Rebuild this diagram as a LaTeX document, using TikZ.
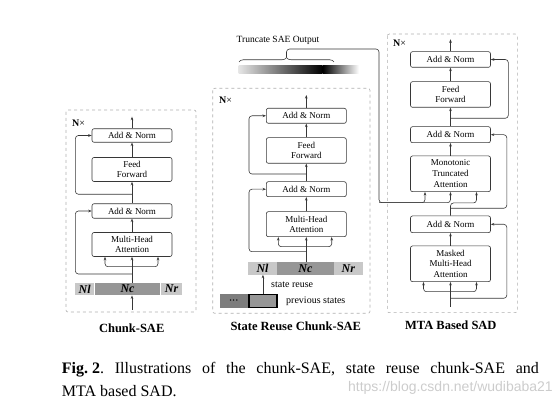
\documentclass[tikz,border=0pt]{standalone}
\usepackage{fontspec}
\setmainfont{Liberation Serif}
\setsansfont{Liberation Sans}
\usetikzlibrary{arrows.meta,positioning,decorations.pathreplacing,calc}
\definecolor{lineC}{RGB}{55,55,55}
\definecolor{barL}{RGB}{200,200,200}
\definecolor{barD}{RGB}{150,150,150}
\definecolor{prevD}{RGB}{125,125,125}
\definecolor{frameC}{RGB}{175,175,175}

\begin{document}
\begin{tikzpicture}[x=1pt, y=-1pt,
    >={Stealth[length=3.5pt,width=2.6pt]},
    blk/.style={rectangle, rounded corners=2pt, draw=lineC, line width=0.6pt, fill=white, minimum width=80pt, align=center, inner sep=1pt, font=\fontsize{9}{10.5}\selectfont},
    seg/.style={rectangle, minimum height=12.5pt, inner sep=0pt, font=\fontsize{12}{12}\selectfont\bfseries\itshape},
    frame/.style={draw=frameC, dashed, line width=0.6pt, rounded corners=2pt},
    wire/.style={draw=lineC, line width=0.6pt, rounded corners=3pt},
    txt/.style={inner sep=0pt, font=\fontsize{10}{12}\selectfont},
    title/.style={inner sep=0pt, font=\fontsize{12.5}{14}\selectfont\bfseries}
]
    \useasboundingbox (0,0) rectangle (558,406);

    % Chunk-SAE
    \draw[frame] (66,110) rectangle (196,312);
    \node[txt, anchor=west] (nx1) at (72,123) {\textbf{N}×};
    \node[blk, minimum height=13.5pt] (an1t) at (132,135.5) {Add \& Norm};
    \node[blk, minimum height=24pt] (ff1) at (132,169.5) {Feed\\Forward};
    \node[blk, minimum height=14.5pt] (an1b) at (132,211) {Add \& Norm};
    \node[blk, minimum height=24pt] (mha1) at (132,244.5) {Multi-Head\\Attention};
    \node[seg, fill=barL, minimum width=19.3pt] (nl1) at (84.6,289) {Nl};
    \node[seg, fill=barD, minimum width=65.7pt, right=0pt of nl1] (nc1) {Nc};
    \node[seg, fill=barL, minimum width=21.7pt, right=0pt of nc1] (nr1) {Nr};
    \node[title] (t1) at (131.7,328) {Chunk-SAE};
    \coordinate (in1) at (132,310);
    \coordinate (br1) at (132,266.7);
    \coordinate (r1a) at (132,274);
    \coordinate (r1b) at (132,194.3);
    \coordinate (out1) at (132,116.7);
    \draw[wire,->] (in1) -- (in1 |- nc1.south);
    \draw[wire,->] (nc1.north -| mha1) -- (mha1.south);
    \draw[wire,->] (br1) -| ([xshift=-27pt]mha1.south);
    \draw[wire,->] (br1) -| ([xshift=26pt]mha1.south);
    \draw[wire,->] (r1a) -| ([xshift=-16.3pt]an1b.west) -- (an1b.west);
    \draw[wire,->] (mha1.north) -- (an1b.south);
    \draw[wire,->] (an1b.north) -- (ff1.south);
    \draw[wire,->] (r1b) -| ([xshift=-16.3pt]an1t.west) -- (an1t.west);
    \draw[wire,->] (ff1.north) -- (an1t.south);
    \draw[wire,->] (an1t.north) -- (out1);

    % State Reuse Chunk-SAE
    \draw[frame] (212.7,88.3) rectangle (370,313.3);
    \node[txt, anchor=west] (nx2) at (219,100) {\textbf{N}×};
    \node[blk, minimum height=15pt] (an2t) at (306.3,115.8) {Add \& Norm};
    \node[blk, minimum height=25.6pt] (ff2) at (306.3,150.5) {Feed\\Forward};
    \node[blk, minimum height=15pt] (an2b) at (306.3,189.2) {Add \& Norm};
    \node[blk, minimum height=25pt] (mha2) at (306.3,224.2) {Multi-Head\\Attention};
    \node[seg, fill=barL, minimum width=28.4pt] (nl2) at (262.5,268.3) {Nl};
    \node[seg, fill=barD, minimum width=56.6pt, right=0pt of nl2] (nc2) {Nc};
    \node[seg, fill=barL, minimum width=28.4pt, right=0pt of nc2] (nr2) {Nr};
    \node[rectangle, fill=prevD, minimum width=27.7pt, minimum height=13.4pt, inner sep=0pt, font=\fontsize{6}{6}\selectfont] (dots) at (233.8,301) {\textbullet\,\textbullet\,\textbullet};
    \node[rectangle, fill=barD, draw=black, line width=1.2pt, minimum width=28pt, minimum height=12.4pt, inner sep=0pt, right=0.5pt of dots] (prev) {};
    \node[txt, anchor=west] (sr) at (271,285) {state reuse};
    \node[txt, anchor=west] (ps) at (286,301) {previous states};
    \node[title] (t2) at (295.8,326.7) {State Reuse Chunk-SAE};
    \coordinate (br2) at (306.3,246.7);
    \coordinate (r2a) at (306.3,251.7);
    \coordinate (r2b) at (306.3,174);
    \coordinate (out2) at (306.3,95);
    \draw[wire,->] (prev.north) -- (prev.north |- nl2.south);
    \draw[wire,->] (nc2.north -| mha2) -- (mha2.south);
    \draw[wire,->] (br2) -| ([xshift=-28pt]mha2.south);
    \draw[wire,->] (br2) -| ([xshift=25.4pt]mha2.south);
    \draw[wire,->] (r2a) -| ([xshift=-17pt]an2b.west) -- (an2b.west);
    \draw[wire,->] (mha2.north) -- (an2b.south);
    \draw[wire,->] (an2b.north) -- (ff2.south);
    \draw[wire,->] (r2b) -| ([xshift=-17pt]an2t.west) -- (an2t.west);
    \draw[wire,->] (ff2.north) -- (an2t.south);
    \draw[wire,->] (an2t.north) -- (out2);

    % Truncated SAE output
    \node[txt, anchor=west, font=\fontsize{9.5}{11}\selectfont] (trtxt) at (236.5,40) {Truncate SAE Output};
    \node[inner sep=0pt, minimum width=84pt, minimum height=8.3pt, left color=black!10, right color=black, anchor=west] (grL) at (238.3,69.2) {};
    \node[inner sep=0pt, minimum width=36pt, minimum height=8.3pt, left color=black, right color=white, right=0pt of grL] (grR) {};
    \draw[lineC, line width=0.6pt, decorate, decoration={brace, amplitude=4.5pt}] (239,62) -- (334,62);
    \coordinate (bt) at (286.5,57.5);
    \coordinate (tj) at (379,202.7);

    % MTA Based SAD
    \draw[frame] (387.3,34) rectangle (517.3,312.7);
    \node[txt, anchor=west] (nx3) at (393,43.5) {\textbf{N}×};
    \node[blk, minimum height=15.6pt] (an3t) at (450.5,59.5) {Add \& Norm};
    \node[blk, minimum height=25.6pt] (ff3) at (450.5,94.5) {Feed\\Forward};
    \node[blk, minimum height=16pt] (an3m) at (450.5,134.7) {Add \& Norm};
    \node[blk, minimum height=35.7pt, font=\fontsize{9}{10.8}\selectfont] (mta) at (450.5,173.8) {Monotonic\\Truncated\\Attention};
    \node[blk, minimum height=16.7pt] (an3b) at (450.5,224.3) {Add \& Norm};
    \node[blk, minimum height=35.7pt, font=\fontsize{9}{10.8}\selectfont] (mmha) at (450.5,263.8) {Masked\\Multi-Head\\Attention};
    \node[title] (t3) at (450.8,325) {MTA Based SAD};
    \coordinate (in3) at (450.5,306.7);
    \coordinate (br3) at (450.5,291.7);
    \coordinate (r3a) at (450.5,298.3);
    \coordinate (r3b) at (450.5,208.3);
    \coordinate (r3c) at (450.5,118.3);
    \coordinate (out3) at (450.5,39.3);
    \draw[wire,->] (in3) -- (mmha.south);
    \draw[wire,->] (br3) -| ([xshift=-27pt]mmha.south);
    \draw[wire,->] (br3) -| ([xshift=26pt]mmha.south);
    \draw[wire,->] (r3a) -| ([xshift=16pt]an3b.east) -- (an3b.east);
    \draw[wire,->] (mmha.north) -- (an3b.south);
    \draw[wire,->] (an3b.north) |- ($(mta.south)+(26,11)$) -- ([xshift=26pt]mta.south);
    \draw[wire,->] (r3b) -| ([xshift=16pt]an3m.east) -- (an3m.east);
    \draw[wire,->] (bt) |- (379,49) -- (tj) -| ([xshift=-25.5pt]mta.south);
    \draw[wire,->] (tj) -| (mta.south);
    \draw[wire,->] (mta.north) -- (an3m.south);
    \draw[wire,->] (an3m.north) -- (ff3.south);
    \draw[wire,->] (r3c) -| ([xshift=17.5pt]an3t.east) -- (an3t.east);
    \draw[wire,->] (ff3.north) -- (an3t.south);
    \draw[wire,->] (an3t.north) -- (out3);

    % Caption
    \node[inner sep=0pt, anchor=west, font=\fontsize{16}{18}\selectfont\frenchspacing] (cap1) at (61.7,370) {\makebox[477pt][s]{\textbf{\mbox{Fig. 2}}. Illustrations of the chunk-SAE, state reuse chunk-SAE and}};
    \node[inner sep=0pt, anchor=west, font=\fontsize{16}{18}\selectfont] (cap2) at (61.7,391.5) {MTA based SAD.};
    \node[inner sep=0pt, anchor=east, text=black!20, font=\sffamily\fontsize{14}{16}\selectfont] (wm) at (553,388) {https://blog.csdn.net/wudibaba21};
\end{tikzpicture}
\end{document}
